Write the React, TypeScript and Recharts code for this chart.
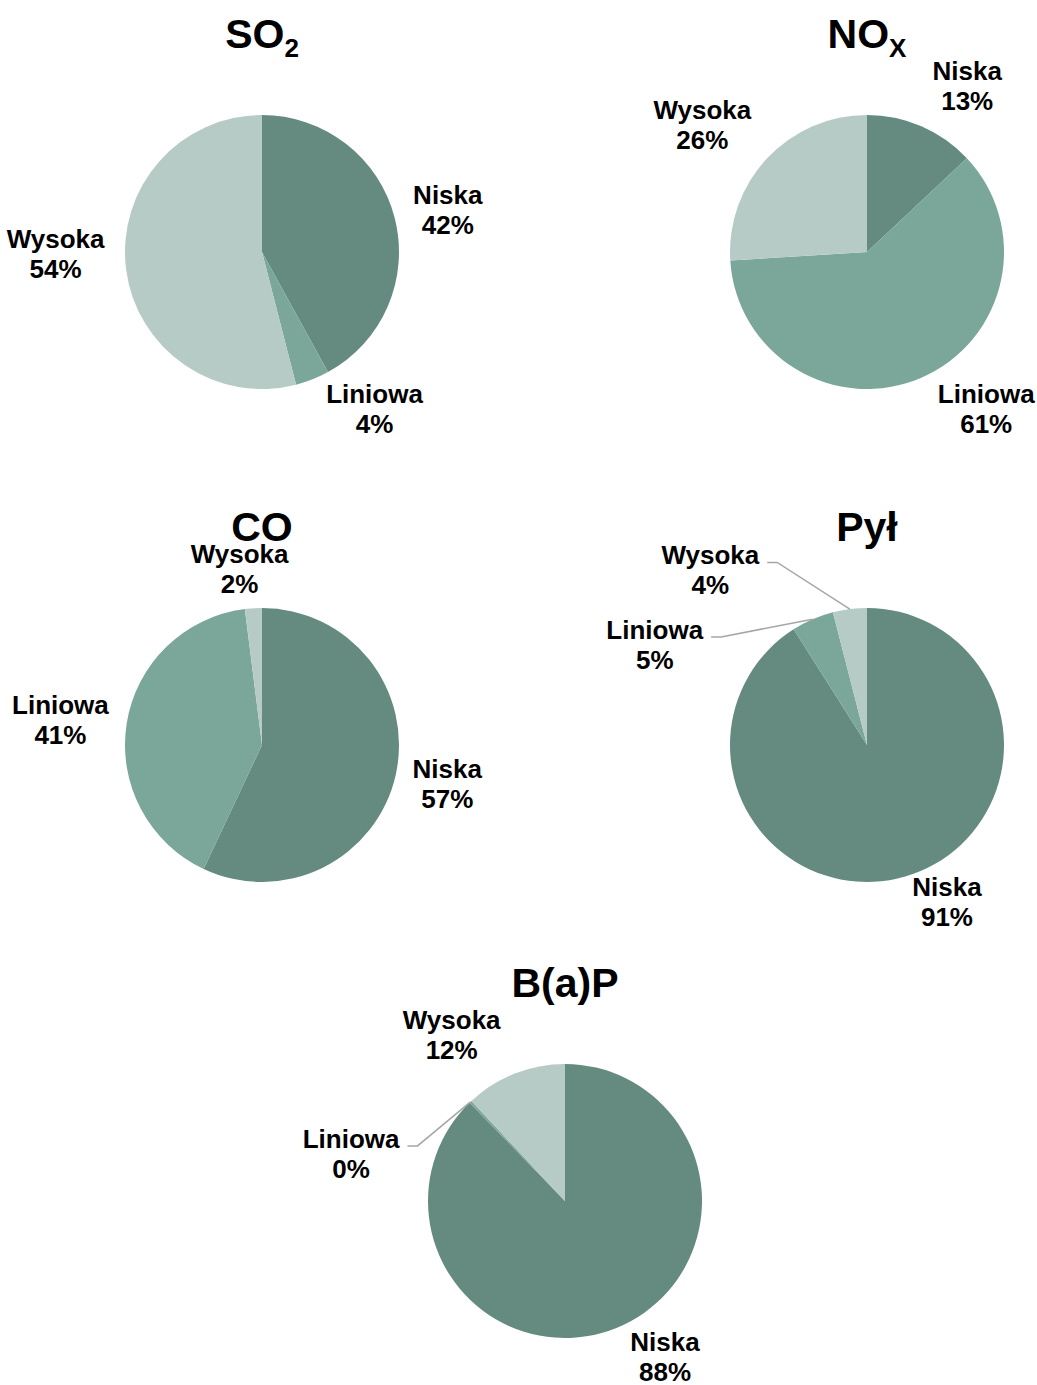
import React from 'react'
import { PieChart, Pie, Cell } from 'recharts'

// shares of emission sources, in %
const sources = ['Niska', 'Liniowa', 'Wysoka']
const so2 = [42, 4, 54]
const nox = [13, 61, 26]
const co = [57, 41, 2]
const pyl = [91, 5, 4]
const bap = [88, 0.3, 12]

const COLORS = ['#658a7f', '#7aa79a', '#b7cbc6']
const FONT = '"Liberation Sans", Arial, sans-serif'
const R = 137
const LABEL_SIZE = 26

type Nudge = { dx: number; dy: number; leader?: boolean }

interface PieSpec {
  key: string
  title: string
  sub?: string
  values: number[]
  cx: number
  cy: number
  nudges: Nudge[]
}

const pies: PieSpec[] = [
  { key: 'so2', title: 'SO', sub: '2', values: so2, cx: 262, cy: 252,
    nudges: [{ dx: -5, dy: 3 }, { dx: 40, dy: -11 }, { dx: -11, dy: -21 }] },
  { key: 'nox', title: 'NO', sub: 'X', values: nox, cx: 867, cy: 252,
    nudges: [{ dx: 22, dy: 0 }, { dx: 41, dy: -9 }, { dx: -21, dy: -3 }] },
  { key: 'co', title: 'CO', values: co, cx: 262, cy: 745,
    nudges: [{ dx: -7, dy: 0 }, { dx: -7, dy: 3 }, { dx: -10, dy: 5 }] },
  { key: 'pyl', title: 'Pył', values: pyl, cx: 867, cy: 745,
    nudges: [{ dx: 25, dy: -17 }, { dx: -134, dy: 66, leader: true }, { dx: -132, dy: 5, leader: true }] },
  { key: 'bap', title: 'B(a)P', values: bap, cx: 565, cy: 1201,
    nudges: [{ dx: 26, dy: -12 }, { dx: -78, dy: 84, leader: true }, { dx: -41, dy: 2 }] },
]

let ctx: CanvasRenderingContext2D | null = null
function textWidth(s: string) {
  if (!ctx) ctx = document.createElement('canvas').getContext('2d')
  if (!ctx) return s.length * 14
  ctx.font = `bold ${LABEL_SIZE}px ${FONT}`
  return ctx.measureText(s).width
}

function makeLabel(spec: PieSpec) {
  return (props: any) => {
    const { cx, cy, midAngle, outerRadius, percent, index, name } = props
    const rad = (Math.PI / 180) * midAngle
    const dx = Math.cos(rad)
    const dy = -Math.sin(rad)
    const n = spec.nudges[index] || { dx: 0, dy: 0 }
    const lx = cx + (outerRadius + 12) * dx + dx * 48 + n.dx
    const ly = cy + (outerRadius + 12) * dy + dy * 32 + n.dy
    let leader = null
    if (n.leader) {
      const sx = lx + textWidth(name) / 2 + 8
      const sy = ly - 8
      const ex = cx + outerRadius * dx
      const ey = cy + outerRadius * dy
      leader = (
        <polyline
          points={`${sx},${sy} ${sx + 10},${sy} ${ex},${ey}`}
          fill="none"
          stroke="#a6a6a6"
          strokeWidth={1.5}
        />
      )
    }
    return (
      <g>
        {leader}
        <text x={lx} y={ly} textAnchor="middle" fontFamily={FONT} fontWeight="bold" fontSize={LABEL_SIZE} fill="#000">
          <tspan x={lx} y={ly - 6}>{name}</tspan>
          <tspan x={lx} y={ly + 24}>{`${Math.round(percent * 100)}%`}</tspan>
        </text>
      </g>
    )
  }
}

function Title({ spec }: { spec: PieSpec }) {
  return (
    <div
      style={{
        position: 'absolute',
        left: spec.cx - 150,
        top: spec.cy - R - 67 - 34,
        width: 300,
        textAlign: 'center',
        fontFamily: FONT,
        fontWeight: 'bold',
        fontSize: 41,
        lineHeight: '40px',
        color: '#000',
      }}
    >
      {spec.title}
      {spec.sub && (
        <span style={{ fontSize: 26, position: 'relative', top: 9 }}>{spec.sub}</span>
      )}
    </div>
  )
}

export default function App() {
  return (
    <div style={{ position: 'absolute', left: 0, top: 0, width: 1037, height: 1385, background: '#fff' }}>
      <PieChart width={1037} height={1385} margin={{ top: 0, right: 0, bottom: 0, left: 0 }}>
        {pies.map(spec => (
          <Pie
            key={spec.key}
            data={sources.map((s, i) => ({ name: s, value: spec.values[i] }))}
            dataKey="value"
            nameKey="name"
            cx={spec.cx}
            cy={spec.cy}
            outerRadius={R}
            startAngle={90}
            endAngle={-270}
            stroke="none"
            labelLine={false}
            label={makeLabel(spec)}
            isAnimationActive={false}
          >
            {sources.map((s, i) => (
              <Cell key={s} fill={COLORS[i]} />
            ))}
          </Pie>
        ))}
      </PieChart>
      {pies.map(spec => (
        <Title key={spec.key} spec={spec} />
      ))}
    </div>
  )
}
